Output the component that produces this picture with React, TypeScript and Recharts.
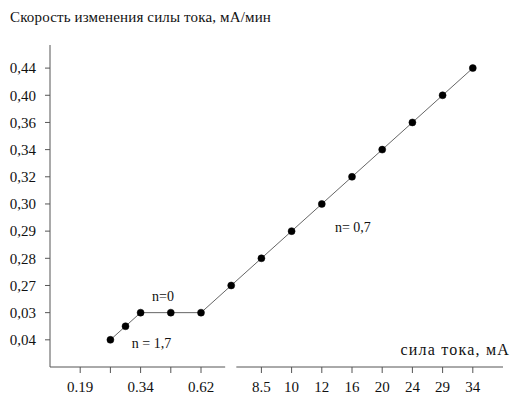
import React from "react";
import {
  LineChart, Line, XAxis, YAxis, ReferenceLine, ReferenceDot,
} from "recharts";

// positions along the (broken) axes
const xPos = [2, 2.5, 3, 4, 5, 6, 7, 8, 9, 10, 11, 12, 13, 14];
const yPos = [1, 1.5, 2, 2, 2, 3, 4, 5, 6, 7, 8, 9, 10, 11];

const xTicks = [1, 2, 3, 4, 5, 7, 8, 9, 10, 11, 12, 13, 14];
const xTickLabels = ["0.19", "", "0.34", "", "0.62", "8.5", "10", "12", "16", "20", "24", "29", "34"];

const yTicks = [1, 2, 3, 4, 5, 6, 7, 8, 9, 10, 11];
const yTickLabels = ["0,04", "0,03", "0,27", "0,28", "0,29", "0,30", "0,32", "0,34", "0,36", "0,40", "0,44"];

const notes = [
  { x: 3.74, y: 2.61, text: "n=0" },
  { x: 3.36, y: 0.88, text: "n = 1,7" },
  { x: 10.03, y: 5.16, text: "n= 0,7" },
];

const data = xPos.map((x, i) => ({ x, y: yPos[i] }));

const FONT = "'Liberation Serif', 'Times New Roman', serif";
const AXIS = "#555";

export default function App() {
  return (
    <div style={{ position: "absolute", left: 0, top: 0, width: 511, height: 396, background: "#fff", fontFamily: FONT }}>
      <div style={{ position: "absolute", left: 10, top: 9, fontSize: 15, letterSpacing: 0.15, color: "#111", whiteSpace: "nowrap" }}>
        Скорость изменения силы тока, мА/мин
      </div>
      <div style={{ position: "absolute", right: 1, top: 341, fontSize: 16, letterSpacing: 1.2, color: "#111", whiteSpace: "nowrap" }}>
        сила тока, мА
      </div>
      <LineChart width={511} height={396} data={data} margin={{ top: 45, right: 8, left: 0, bottom: 0 }} style={{ fontFamily: FONT }}>
        <XAxis
          type="number"
          dataKey="x"
          domain={[0, 15]}
          ticks={xTicks}
          interval={0}
          tickFormatter={(v: number) => xTickLabels[xTicks.indexOf(v)] ?? ""}
          axisLine={false}
          tickLine={{ stroke: AXIS }}
          tickSize={6}
          tickMargin={8}
          height={29}
          tick={{ fontSize: 15, fill: "#111", fontFamily: FONT }}
        />
        <YAxis
          type="number"
          domain={[0, 11.85]}
          ticks={yTicks}
          interval={0}
          tickFormatter={(v: number) => yTickLabels[v - 1]}
          axisLine={{ stroke: AXIS }}
          tickLine={{ stroke: AXIS }}
          tickSize={5}
          tickMargin={9}
          width={50}
          tick={{ fontSize: 15, fill: "#111", fontFamily: FONT }}
        />
        <ReferenceLine segment={[{ x: 0, y: 0 }, { x: 5.8, y: 0 }]} stroke={AXIS} strokeWidth={1} />
        <ReferenceLine segment={[{ x: 6.17, y: 0 }, { x: 15, y: 0 }]} stroke={AXIS} strokeWidth={1} />
        <Line
          type="linear"
          dataKey="y"
          stroke="#666"
          strokeWidth={1}
          dot={{ r: 3.5, fill: "#000", stroke: "#000", strokeWidth: 0.5 }}
          isAnimationActive={false}
        />
        {notes.map((n) => (
          <ReferenceDot
            key={n.text}
            x={n.x}
            y={n.y}
            r={0}
            fill="none"
            stroke="none"
            label={{ value: n.text, position: "center", fontSize: 14, fill: "#111", fontFamily: FONT }}
          />
        ))}
      </LineChart>
    </div>
  );
}
